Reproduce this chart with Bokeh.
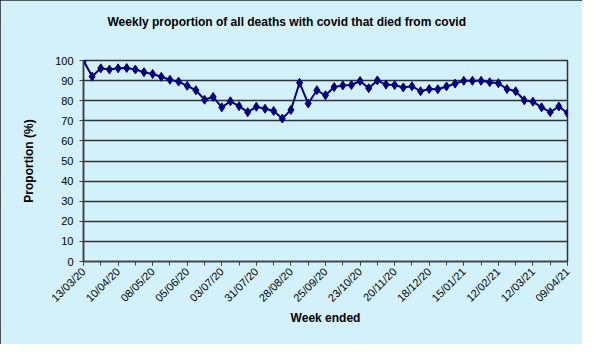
from math import pi
from bokeh.plotting import figure
from bokeh.models import Range1d, FixedTicker, ColumnDataSource, Title
from bokeh.embed import file_html
from bokeh.resources import INLINE

title_text = "Weekly proportion of all deaths with covid that died from covid"
x_title = "Week ended"
y_title = "Proportion (%)"

# Tick labels: week-ending dates, one every 4 weeks
tick_labels = ["13/03/20", "10/04/20", "08/05/20", "05/06/20", "03/07/20",
               "31/07/20", "28/08/20", "25/09/20", "23/10/20", "20/11/20",
               "18/12/20", "15/01/21", "12/02/21", "12/03/21", "09/04/21"]

# Weekly proportion (%) for 57 weeks, 13/03/20 .. 09/04/21
proportion = [100.0, 92.0, 96.1, 95.5, 96.1, 96.3, 95.5, 94.2, 93.3, 91.9,
              90.4, 89.5, 87.4, 85.2, 80.5, 81.9, 76.7, 79.7, 77.3, 74.3,
              77.0, 76.0, 74.9, 71.1, 75.4, 88.9, 78.6, 85.2, 82.7, 86.8,
              87.6, 87.8, 89.8, 86.2, 90.1, 88.0, 87.8, 86.6, 87.2, 84.7,
              85.8, 85.7, 87.1, 88.5, 89.9, 89.9, 89.9, 89.2, 88.7, 85.8,
              84.7, 80.2, 79.5, 76.7, 74.3, 77.1, 73.8]

week = list(range(len(proportion)))
src = ColumnDataSource(data=dict(week=week, proportion=proportion))

BG = "#D3F1FB"
FONT = "Liberation Sans"

p = figure(width=582, height=344, output_backend="svg", toolbar_location=None,
           title=None,
           x_range=Range1d(0, len(proportion) - 1), y_range=Range1d(0, 100),
           min_border_left=83, min_border_right=15, min_border_top=60,
           min_border_bottom=83)

p.background_fill_color = BG
p.border_fill_color = BG
p.outline_line_color = "#333333"
p.outline_line_width = 1.5
p.styles = {"outline": "2px solid #222222", "outline-offset": "-2px"}

# spacer (nearest the frame) then the real title above it
p.add_layout(Title(text=" ", text_font=FONT, text_font_size="12px", standoff=16), "above")
p.add_layout(Title(text=title_text, text_font=FONT, text_font_size="12px",
                   text_font_style="bold", text_color="#000000", align="left",
                   offset=24, standoff=0), "above")

major = list(range(0, len(proportion), 4))
minor = list(range(0, len(proportion), 2))
p.xaxis.ticker = FixedTicker(ticks=major, minor_ticks=minor)
p.xaxis.major_label_overrides = {t: lab for t, lab in zip(major, tick_labels)}
p.xaxis.major_label_orientation = pi / 4
p.yaxis.ticker = FixedTicker(ticks=list(range(0, 101, 10)))

for ax in (p.xaxis, p.yaxis):
    ax.axis_line_color = "#404040"
    ax.axis_line_width = 1.5
    ax.major_tick_line_color = "#404040"
    ax.minor_tick_line_color = "#404040"
    ax.major_tick_out = 4
    ax.major_tick_in = 0
    ax.minor_tick_out = 4
    ax.minor_tick_in = 0
    ax.major_label_text_font = FONT
    ax.major_label_text_font_size = "11px"
    ax.major_label_text_color = "#000000"
    ax.axis_label_text_font = FONT
    ax.axis_label_text_font_size = "12px"
    ax.axis_label_text_font_style = "bold"
    ax.axis_label_text_color = "#000000"

p.yaxis.minor_tick_line_color = None
p.yaxis.major_label_standoff = 6
p.xaxis.major_label_standoff = 4
p.xaxis.axis_label = x_title
p.yaxis.axis_label = y_title
p.xaxis.axis_label_standoff = 0
p.yaxis.axis_label_standoff = 16

p.xgrid.grid_line_color = None
p.ygrid.grid_line_color = "#333333"
p.ygrid.grid_line_width = 1.5

p.line("week", "proportion", source=src, line_color="#000080", line_width=2)
p.scatter("week", "proportion", source=src, marker="diamond", size=9,
          fill_color="#000080", line_color="#000080")

open("out.html", "w").write(file_html(p, INLINE))
